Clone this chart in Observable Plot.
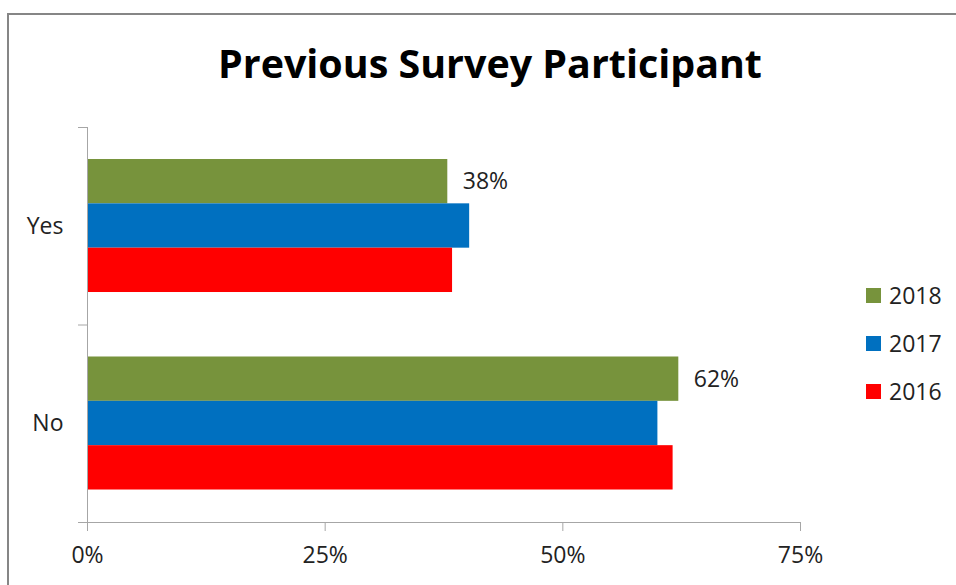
<!DOCTYPE html>
<html>
<head>
<meta charset="utf-8">
<script src="https://cdn.jsdelivr.net/npm/d3@7"></script>
<script src="https://cdn.jsdelivr.net/npm/@observablehq/plot@0.6"></script>
<style>
  html, body { margin: 0; padding: 0; background: #fff; }
  body { width: 956px; height: 585px; overflow: hidden; position: relative; font-family: "Open Sans", sans-serif; }
  #border { position: absolute; left: 7px; top: 13px; width: 1200px; height: 1200px;
            border-top: 2px solid #868686; border-left: 2px solid #868686; box-sizing: border-box; }
  #title { position: absolute; left: 0; top: 0; width: 980px; height: 100px; text-align: center;
           font-weight: 700; color: #000; white-space: nowrap; }
  #title span { position: absolute; top: 44px; line-height: 1; }
  #chart { position: absolute; left: 0; top: 100px; }
  #legend { position: absolute; left: 866px; top: 0; }
  .lg { position: absolute; left: 0; display: flex; align-items: center; white-space: nowrap;
        font-size: 23px; color: #222; }
  .sw { width: 15px; height: 15px; margin-right: 8px; }
</style>
</head>
<body>
<div id="border"></div>
<div id="title"><span>Previous Survey Participant</span></div>
<div id="chart"></div>
<div id="legend"></div>
<script>
const titleText = "Previous Survey Participant";
const categories = ["Yes", "No"];
const years = ["2018", "2017", "2016"];
const values2018 = [37.9, 62.2];
const values2017 = [40.2, 60.0];
const values2016 = [38.4, 61.6];
const xTicks = [0, 25, 50, 75];
const yearColors = ["#77933C", "#0070C0", "#FF0000"];
const labelledYear = "2018";

const seriesByYear = {"2018": values2018, "2017": values2017, "2016": values2016};
const rows = [];
categories.forEach((c, i) => years.forEach((y, j) => rows.push({category: c, ci: i, year: y, yj: j, value: seriesByYear[y][i]})));

// layout of grouped bars within each category band
const groupOffset = 0.162, barStep = 0.2245;
const y1 = d => d.ci + groupOffset + d.yj * barStep;
const y2 = d => d.ci + groupOffset + (d.yj + 1) * barStep;

// title fitted to width
const tspan = document.querySelector("#title span");
tspan.textContent = titleText;
tspan.style.fontSize = "40px";
const w0 = tspan.getBoundingClientRect().width;
const fs = 40 * 544 / w0;
tspan.style.fontSize = fs + "px";
tspan.style.left = (490 - 544 / 2) + "px";

const axisGray = "#a6a6a6";
const textCol = "#222";

const chart = Plot.plot({
  width: 956,
  height: 485,
  marginTop: 27,
  marginBottom: 63,
  marginLeft: 87,
  marginRight: 156,
  style: {fontFamily: "Open Sans, sans-serif", fontSize: "23px", color: textCol, background: "transparent"},
  x: {domain: [0, 75], axis: null, label: null},
  y: {domain: [0, categories.length], reverse: true, axis: null, label: null},
  marks: [
    Plot.rectX(rows, {x1: 0, x2: "value", y1, y2, fill: d => yearColors[years.indexOf(d.year)]}),
    Plot.ruleX([0], {y1: 0, y2: categories.length, stroke: axisGray}),
    Plot.ruleY([categories.length], {x1: 0, x2: 75, stroke: axisGray}),
    Plot.axisY(d3.range(categories.length + 1), {anchor: "left", tickSize: 9, tickFormat: () => "", stroke: axisGray, label: null}),
    Plot.axisY(categories.map((c, i) => i + 0.5), {anchor: "left", tickSize: 0, tickPadding: 24, tickFormat: v => categories[Math.floor(v)], fill: textCol, label: null}),
    Plot.axisX(xTicks, {anchor: "bottom", tickSize: 9, tickPadding: 15, tickFormat: d => d + "%", stroke: axisGray, fill: textCol, label: null}),
    Plot.text(rows.filter(d => d.year === labelledYear), {
      x: "value", y: d => (y1(d) + y2(d)) / 2, text: d => Math.round(d.value) + "%",
      textAnchor: "start", dx: 15, fill: textCol
    })
  ]
});
document.getElementById("chart").appendChild(chart);

// legend
const legend = document.getElementById("legend");
const legendCenters = [295, 343, 391];
years.forEach((y, j) => {
  const row = document.createElement("div");
  row.className = "lg";
  row.style.top = (legendCenters[j] - 16) + "px";
  row.style.height = "32px";
  const sw = document.createElement("div");
  sw.className = "sw";
  sw.style.background = yearColors[j];
  const t = document.createElement("span");
  t.textContent = y;
  row.appendChild(sw); row.appendChild(t);
  legend.appendChild(row);
});
</script>
</body>
</html>
